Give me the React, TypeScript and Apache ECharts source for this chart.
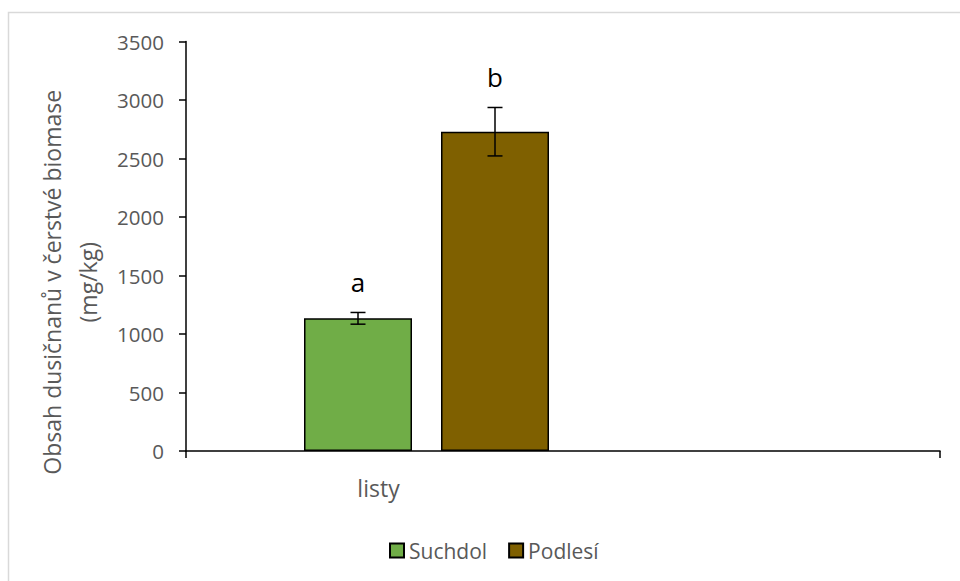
import React, { useEffect, useRef } from "react";
import * as echarts from "echarts";

const categories = ["listy", ""];
const seriesNames = ["Suchdol", "Podlesí"];
const suchdolValues = [1134];
const podlesiValues = [2729];
const errors = [50, 207];
const letters = ["a", "b"];
const yTicks = { min: 0, max: 3500, interval: 500 };

const colors = ["#70AD47", "#7F6000"];
const FONT = "Open Sans";
const GRAY = "#595959";

export default function App() {
  const ref = useRef<HTMLDivElement>(null);
  useEffect(() => {
    if (!ref.current) return;
    const chart = echarts.init(ref.current, undefined, { renderer: "svg" });
    const means = [suchdolValues[0], podlesiValues[0]];
    const errData = seriesNames.map((n, i) => [i, means[i], errors[i]]);
    const option: any = {
      animation: false,
      backgroundColor: "#ffffff",
      textStyle: { fontFamily: FONT },
      graphic: [
        {
          type: "rect",
          shape: { x: 8.5, y: 12.5, width: 1000, height: 1000 },
          style: { fill: "none", stroke: "#d9d9d9", lineWidth: 1.5 },
          silent: true,
        },
      ],
      legend: {
        data: seriesNames,
        top: 535,
        left: 384,
        itemWidth: 14,
        itemHeight: 14,
        itemGap: 21,
        icon: "rect",
        textStyle: { fontFamily: FONT, fontSize: 21, color: GRAY },
      },
      grid: [
        { left: 186, right: 20, top: 41.5, bottom: 130 },
        { left: 289.5, right: 396.5, top: 41.5, bottom: 130 },
      ],
      xAxis: [
        {
          type: "category",
          gridIndex: 0,
          data: categories,
          axisLine: { lineStyle: { color: "#000", width: 1.5 } },
          axisTick: {
            show: true,
            length: 7,
            interval: (i: number) => i === 0,
            lineStyle: { color: "#000", width: 1.5 },
          },
          axisLabel: { margin: 25, fontSize: 23, color: GRAY, fontFamily: FONT, padding: [0, 0, 0, 8] },
          splitLine: { show: false },
        },
        {
          type: "category",
          gridIndex: 1,
          data: seriesNames,
          show: false,
        },
      ],
      yAxis: [
        {
          type: "value",
          gridIndex: 0,
          min: yTicks.min,
          max: yTicks.max,
          interval: yTicks.interval,
          axisLine: { show: true, lineStyle: { color: "#000", width: 1.5 } },
          axisTick: { show: true, length: 7, lineStyle: { color: "#000", width: 1.5 } },
          axisLabel: {
            margin: 22,
            fontSize: 20.5,
            color: GRAY,
            fontFamily: FONT,
            formatter: (v: number) => String(v),
          },
          splitLine: { show: false },
          name: "Obsah dusičnanů v čerstvé biomase\n(mg/kg)",
          nameLocation: "middle",
          nameRotate: 90,
          nameGap: 80,
          nameTextStyle: {
            fontSize: 23,
            color: GRAY,
            fontFamily: FONT,
            lineHeight: 36,
            padding: [0, 72, 0, 0],
          },
        },
        {
          type: "value",
          gridIndex: 1,
          min: yTicks.min,
          max: yTicks.max,
          interval: yTicks.interval,
          show: false,
        },
      ],
      series: [
        {
          name: seriesNames[0],
          type: "bar",
          xAxisIndex: 1,
          yAxisIndex: 1,
          data: [suchdolValues[0], null],
          barWidth: 108,
          barGap: "-100%",
          itemStyle: { color: colors[0], borderColor: "#000", borderWidth: 1.5 },
        },
        {
          name: seriesNames[1],
          type: "bar",
          xAxisIndex: 1,
          yAxisIndex: 1,
          data: [null, podlesiValues[0]],
          barWidth: 108,
          barGap: "-100%",
          itemStyle: { color: colors[1], borderColor: "#000", borderWidth: 1.5 },
        },
        {
          name: "err",
          type: "custom",
          xAxisIndex: 1,
          yAxisIndex: 1,
          data: errData,
          z: 10,
          renderItem: (params: any, api: any) => {
            const x = api.value(0);
            const m = api.value(1);
            const e = api.value(2);
            const top = api.coord([x, m + e]);
            const bot = api.coord([x, m - e]);
            const cap = 7.5;
            const ls = { stroke: "#000", lineWidth: 1.5 };
            return {
              type: "group",
              children: [
                { type: "line", shape: { x1: top[0], y1: top[1], x2: bot[0], y2: bot[1] }, style: ls },
                { type: "line", shape: { x1: top[0] - cap, y1: top[1], x2: top[0] + cap, y2: top[1] }, style: ls },
                { type: "line", shape: { x1: bot[0] - cap, y1: bot[1], x2: bot[0] + cap, y2: bot[1] }, style: ls },
                {
                  type: "text",
                  x: top[0],
                  y: top[1] - 30,
                  style: {
                    text: letters[params.dataIndex],
                    fontSize: 26,
                    fontFamily: FONT,
                    fill: "#000",
                    align: "center",
                    verticalAlign: "middle",
                  },
                },
              ],
            };
          },
        },
      ],
    };
    chart.setOption(option);
    return () => chart.dispose();
  }, []);
  return (
    <div
      ref={ref}
      style={{ position: "fixed", left: 0, top: 0, width: 960, height: 581 }}
    />
  );
}
